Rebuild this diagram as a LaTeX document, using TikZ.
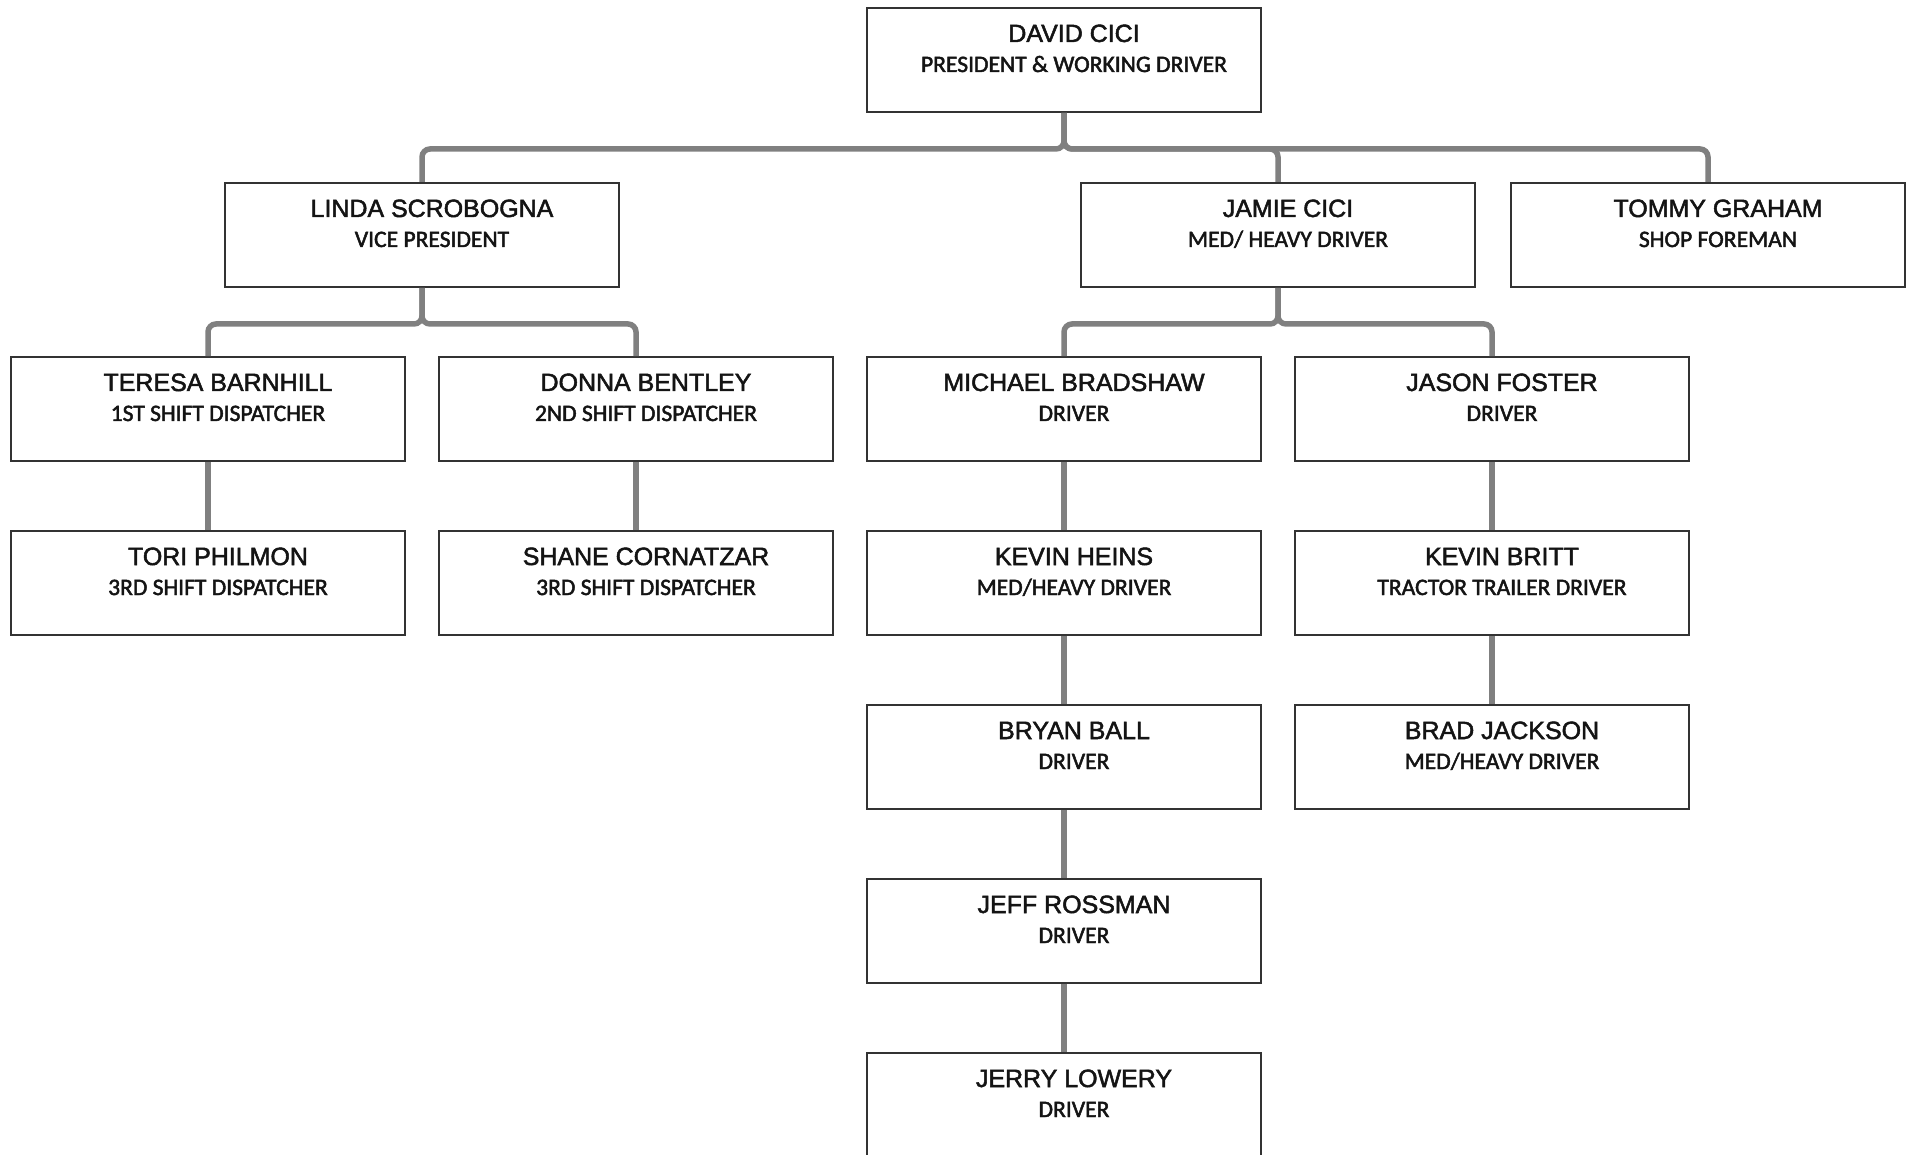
\documentclass[tikz,border=0pt]{standalone}
\usepackage{fontspec}
\setmainfont{Liberation Sans}
\newfontfamily\namefont[FakeBold=2]{Liberation Sans}
\newfontfamily\rolefont[FakeBold=2]{Carlito}
\usetikzlibrary{calc}
\definecolor{edge}{HTML}{808080}
\definecolor{frame}{HTML}{333333}
\definecolor{ink}{HTML}{141414}
\tikzset{
  staff/.style={
    draw=frame,
    line width=0.55pt,
    fill=white,
    minimum width=3.93cm,
    minimum height=1.04cm,
    inner sep=0pt,
  },
  who/.style={anchor=base, font=\namefont\fontsize{7.1}{8}\selectfont, text=ink},
  role/.style={anchor=base, font=\rolefont\fontsize{6.7}{8}\selectfont, text=ink},
  link/.style={draw=edge, line width=0.055cm, rounded corners=0.08cm},
}

\begin{document}
\begin{tikzpicture}[x=0.01cm,y=-0.01cm]
  \clip (0,0) rectangle (1912,1155);
  \fill[white] (0,0) rectangle (1912,1155);

  % staff boxes, one row per level
  \foreach \id/\cx/\cy/\nm/\rl in {
    david/1064/60/DAVID CICI/{PRESIDENT \& WORKING DRIVER},
    linda/422/235/LINDA SCROBOGNA/VICE PRESIDENT,
    jamie/1278/235/JAMIE CICI/{MED/ HEAVY DRIVER},
    tommy/1708/235/TOMMY GRAHAM/SHOP FOREMAN,
    teresa/208/409/TERESA BARNHILL/1ST SHIFT DISPATCHER,
    donna/636/409/DONNA BENTLEY/2ND SHIFT DISPATCHER,
    michael/1064/409/MICHAEL BRADSHAW/DRIVER,
    jason/1492/409/JASON FOSTER/DRIVER,
    tori/208/583/TORI PHILMON/3RD SHIFT DISPATCHER,
    shane/636/583/SHANE CORNATZAR/3RD SHIFT DISPATCHER,
    kevinh/1064/583/KEVIN HEINS/{MED/HEAVY DRIVER},
    kevinb/1492/583/KEVIN BRITT/TRACTOR TRAILER DRIVER,
    bryan/1064/757/BRYAN BALL/DRIVER,
    brad/1492/757/BRAD JACKSON/{MED/HEAVY DRIVER},
    jeff/1064/931/JEFF ROSSMAN/DRIVER,
    jerry/1064/1105/JERRY LOWERY/DRIVER} {
    \node[staff] (\id) at (\cx,\cy) {};
    \node[who] at ($(\id)+(10,-18)$) {\nm};
    \node[role] at ($(\id)+(10,12)$) {\rl};
  }

  % elbow connectors
  \foreach \p/\c in {david/linda,david/jamie,david/tommy,
                     linda/teresa,linda/donna,jamie/michael,jamie/jason}
    \draw[link] (\p.south) -- ++(0,36) -| (\c.north);

  % straight drops
  \foreach \p/\c in {teresa/tori,donna/shane,michael/kevinh,kevinh/bryan,
                     bryan/jeff,jeff/jerry,jason/kevinb,kevinb/brad}
    \draw[link] (\p.south) -- (\c.north);
\end{tikzpicture}
\end{document}
